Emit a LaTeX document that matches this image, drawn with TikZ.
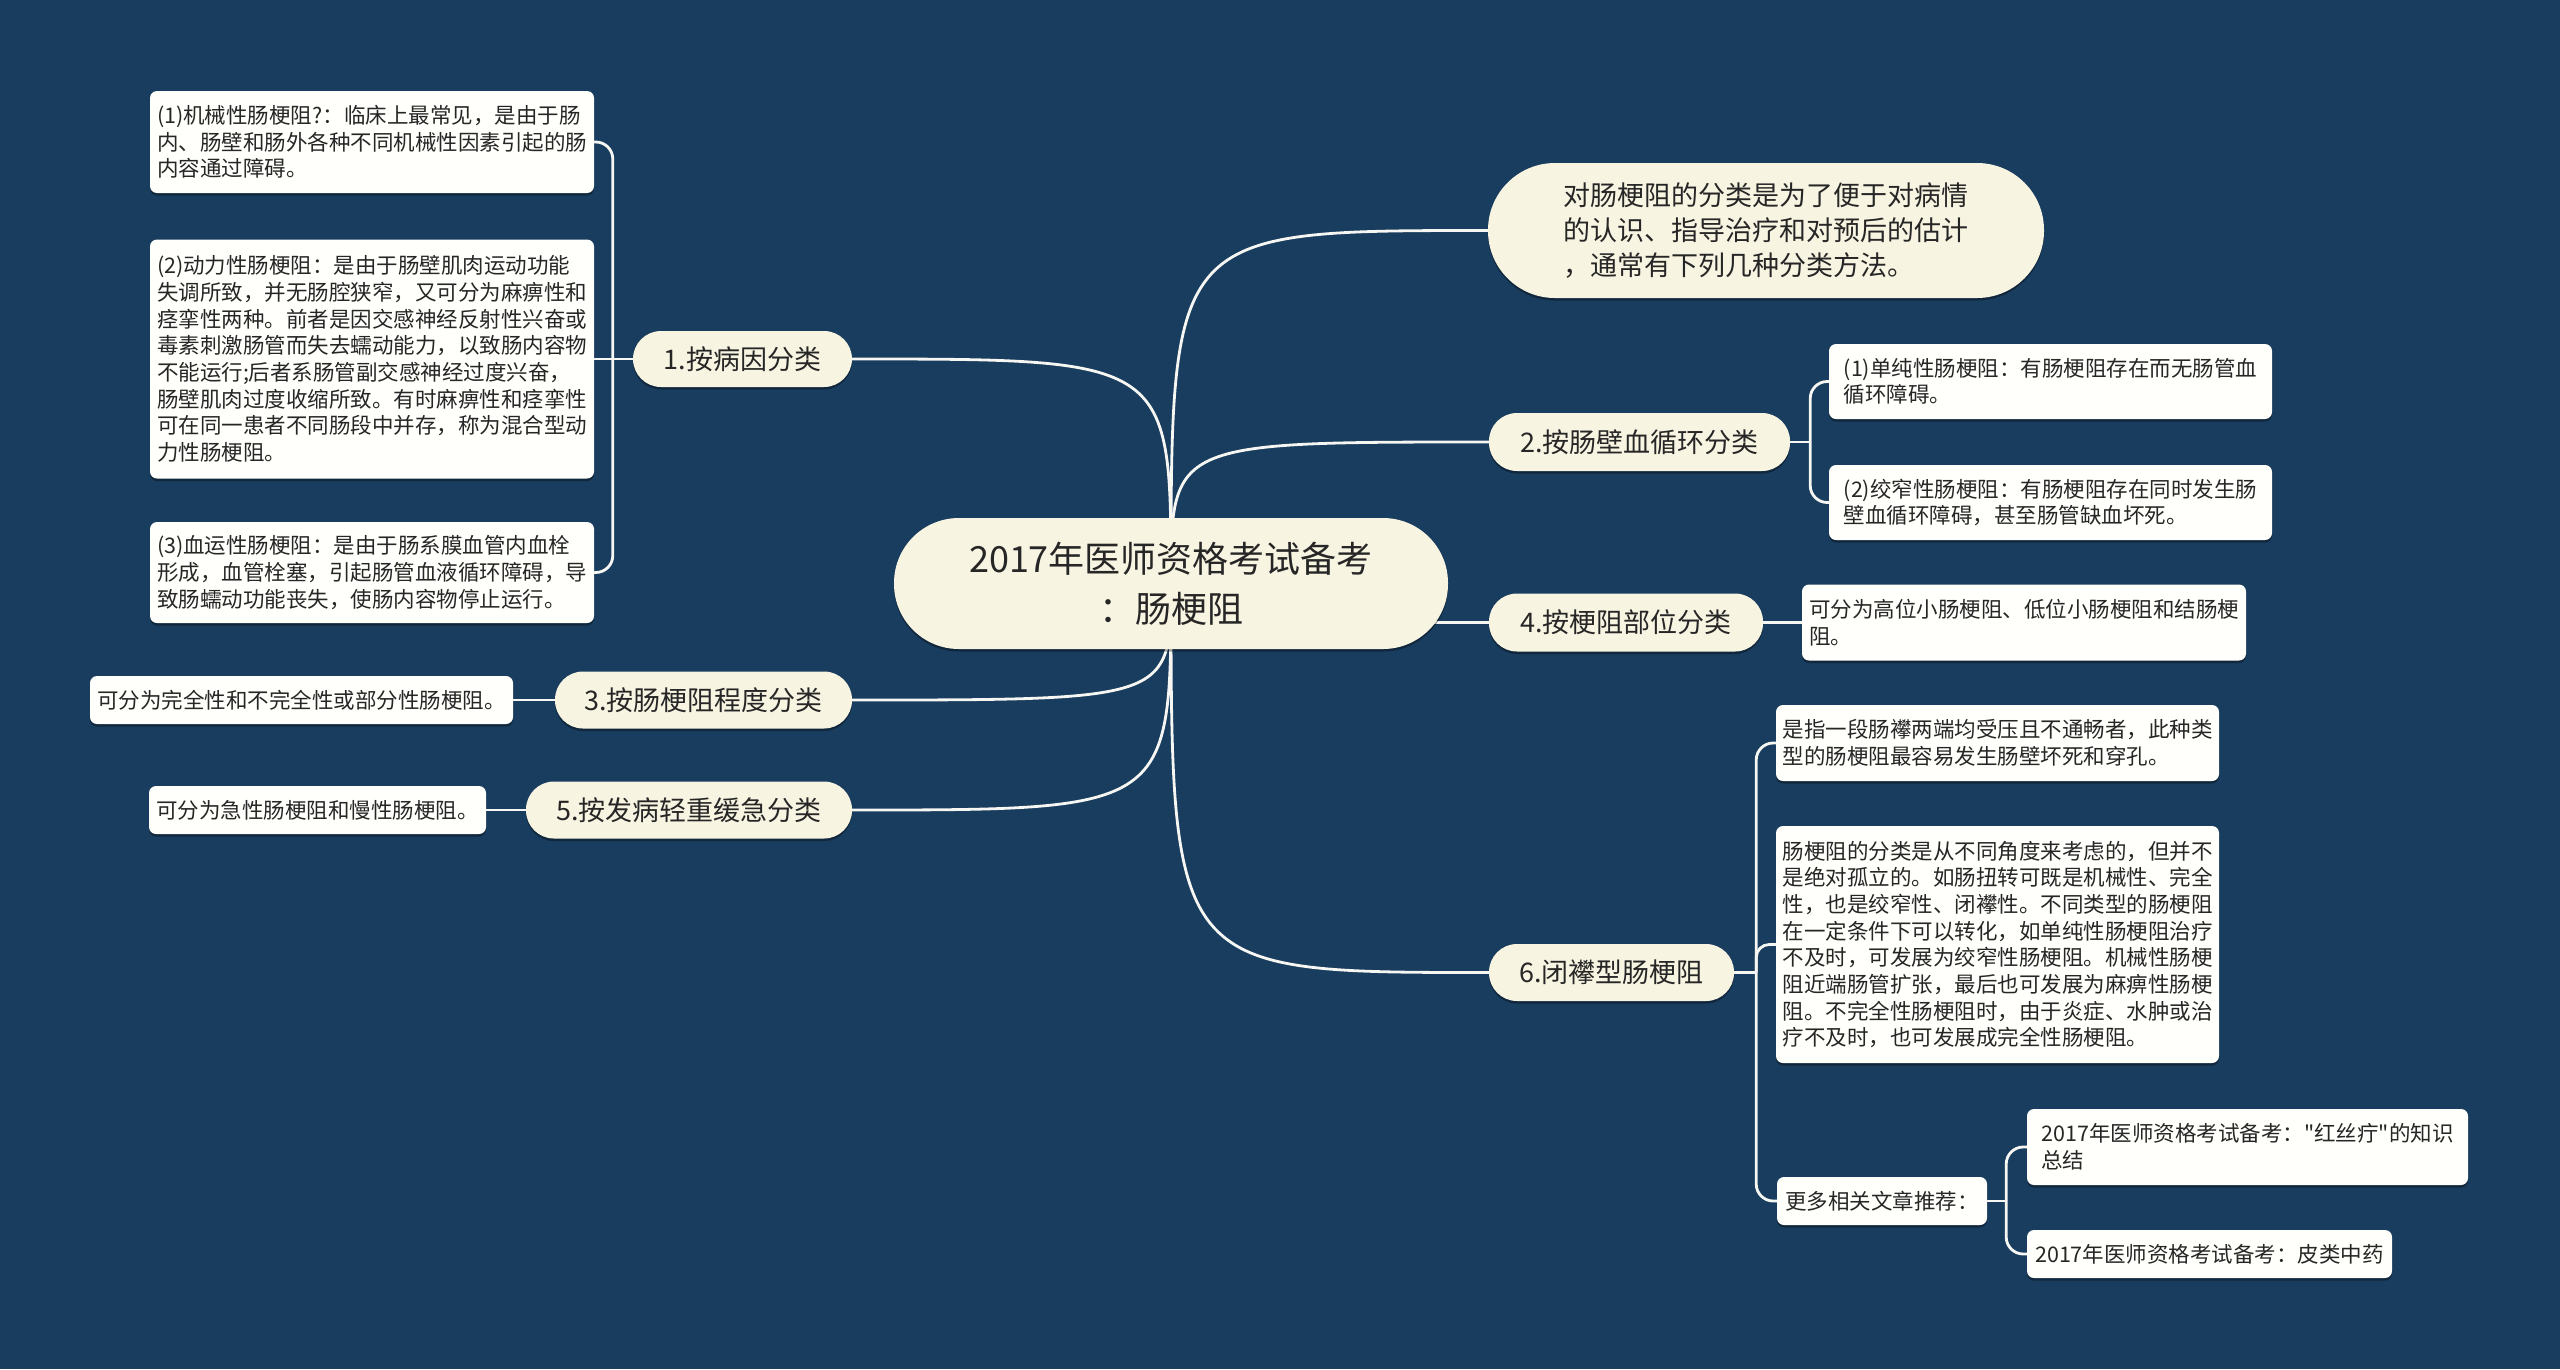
\documentclass[tikz,border=0pt]{standalone}
\usepackage{fontspec}
\setmainfont{Noto Sans CJK SC}[Ligatures=TeXOff]
\usetikzlibrary{shadows,calc}
\definecolor{bgc}{RGB}{25,61,94}
\definecolor{cream}{RGB}{248,244,226}
\definecolor{leafc}{RGB}{255,255,251}
\definecolor{txt}{RGB}{38,38,38}
\definecolor{lin}{RGB}{246,246,242}
\pgfdeclarelayer{back}
\pgfdeclarelayer{lines}
\pgfsetlayers{back,lines,main}
\begin{document}
\begin{tikzpicture}[x=1pt,y=-1pt,
  conn/.style={draw=lin, line width=2.8pt},
  bracket/.style={conn, rounded corners=17pt},
  shad/.style={drop shadow={shadow xshift=0pt, shadow yshift=-2.5pt, opacity=0.35, fill=black}},
  pillnode/.style={fill=cream, text=txt, inner sep=0pt, rounded corners=#1, shad},
  branch/.style={pillnode=28pt, font=\fontsize{27}{32}\selectfont},
  leafnode/.style={fill=leafc, text=txt, inner sep=0pt, rounded corners=7pt, align=left,
    font=\fontsize{21.5}{26.7}\selectfont, shad},
]
\begin{pgfonlayer}{back}
\fill[bgc] (0,0) rectangle (2560,1369);
\end{pgfonlayer}
\useasboundingbox (0,0) rectangle (2560,1369);

% root
\node[pillnode=65pt, minimum width=554pt, minimum height=131pt, align=center,
  font=\fontsize{36}{50}\selectfont] (root) at (1171,583.5)
  {2017年医师资格考试备考\\：肠梗阻};

% top-right note
\node[pillnode=67pt, minimum width=556pt, minimum height=135pt, align=left,
  font=\fontsize{27}{35}\selectfont] (top) at (1766,230.5)
  {对肠梗阻的分类是为了便于对病情\\的认识、指导治疗和对预后的估计\\，通常有下列几种分类方法。};

% branches
\node[branch, minimum width=219pt, minimum height=56pt] (b1) at (742.5,359) {1.按病因分类};
\node[branch, minimum width=297pt, minimum height=57pt] (b3) at (703.5,700) {3.按肠梗阻程度分类};
\node[branch, minimum width=326pt, minimum height=57pt] (b5) at (689,810) {5.按发病轻重缓急分类};
\node[branch, minimum width=301pt, minimum height=58pt] (b2) at (1639.5,442) {2.按肠壁血循环分类};
\node[branch, minimum width=274pt, minimum height=58pt] (b4) at (1626,622.5) {4.按梗阻部位分类};
\node[branch, minimum width=245pt, minimum height=57pt] (b6) at (1611.5,972.5) {6.闭襻型肠梗阻};

% left leaves
\node[leafnode, minimum width=444pt, minimum height=102pt] (l1) at (372,142)
  {(1)机械性肠梗阻?：临床上最常见，是由于肠\\内、肠壁和肠外各种不同机械性因素引起的肠\\内容通过障碍。};
\node[leafnode, minimum width=444pt, minimum height=239pt] (l2) at (372,359)
  {(2)动力性肠梗阻：是由于肠壁肌肉运动功能\\失调所致，并无肠腔狭窄，又可分为麻痹性和\\痉挛性两种。前者是因交感神经反射性兴奋或\\毒素刺激肠管而失去蠕动能力，以致肠内容物\\不能运行;后者系肠管副交感神经过度兴奋，\\肠壁肌肉过度收缩所致。有时麻痹性和痉挛性\\可在同一患者不同肠段中并存，称为混合型动\\力性肠梗阻。};
\node[leafnode, minimum width=444pt, minimum height=101pt] (l3) at (372,572.5)
  {(3)血运性肠梗阻：是由于肠系膜血管内血栓\\形成，血管栓塞，引起肠管血液循环障碍，导\\致肠蠕动功能丧失，使肠内容物停止运行。};
\node[leafnode, minimum width=423pt, minimum height=48pt] (l3b) at (301.5,700)
  {可分为完全性和不完全性或部分性肠梗阻。};
\node[leafnode, minimum width=337pt, minimum height=48pt] (l5) at (317.5,810)
  {可分为急性肠梗阻和慢性肠梗阻。};

% right leaves
\node[leafnode, minimum width=443pt, minimum height=75pt] (r2a) at (2050.5,381.5)
  {(1)单纯性肠梗阻：有肠梗阻存在而无肠管血\\循环障碍。};
\node[leafnode, minimum width=443pt, minimum height=75pt] (r2b) at (2050.5,502.5)
  {(2)绞窄性肠梗阻：有肠梗阻存在同时发生肠\\壁血循环障碍，甚至肠管缺血坏死。};
\node[leafnode, minimum width=444pt, minimum height=76pt] (r4) at (2024,622.5)
  {可分为高位小肠梗阻、低位小肠梗阻和结肠梗\\阻。};
\node[leafnode, minimum width=443pt, minimum height=76pt] (r6a) at (1997.5,743)
  {是指一段肠襻两端均受压且不通畅者，此种类\\型的肠梗阻最容易发生肠壁坏死和穿孔。};
\node[leafnode, minimum width=443pt, minimum height=237pt] (r6b) at (1997.5,944.5)
  {肠梗阻的分类是从不同角度来考虑的，但并不\\是绝对孤立的。如肠扭转可既是机械性、完全\\性，也是绞窄性、闭襻性。不同类型的肠梗阻\\在一定条件下可以转化，如单纯性肠梗阻治疗\\不及时，可发展为绞窄性肠梗阻。机械性肠梗\\阻近端肠管扩张，最后也可发展为麻痹性肠梗\\阻。不完全性肠梗阻时，由于炎症、水肿或治\\疗不及时，也可发展成完全性肠梗阻。};
\node[leafnode, minimum width=210pt, minimum height=48pt] (more) at (1882,1201)
  {更多相关文章推荐：};
\node[leafnode, minimum width=441pt, minimum height=76pt] (r6c1) at (2247.5,1147)
  {2017年医师资格考试备考："红丝疔"的知识\\总结};
\node[leafnode, minimum width=365pt, minimum height=48pt] (r6c2) at (2209.5,1254)
  {2017年医师资格考试备考：皮类中药};

% connectors
\begin{pgfonlayer}{lines}
\draw[conn] (root.center) .. controls (root.center |- b1.east) .. (b1.east);
\draw[conn] (root.center) .. controls (root.center |- b3.east) .. (b3.east);
\draw[conn] (root.center) .. controls (root.center |- b5.east) .. (b5.east);
\draw[conn] (root.center) .. controls (root.center |- top.west) .. (top.west);
\draw[conn] (root.center) .. controls (root.center |- b2.west) .. (b2.west);
\draw[conn] (root.center) .. controls (root.center |- b4.west) .. (b4.west);
\draw[conn] (root.center) .. controls (root.center |- b6.west) .. (b6.west);

\coordinate (j1) at ($(b1.west)+(-20,0)$);
\draw[conn] (b1.west) -- (l2.east);
\draw[bracket] (j1) |- (l1.east);
\draw[bracket] (j1) |- (l3.east);

\draw[conn] (b3.west) -- (l3b.east);
\draw[conn] (b5.west) -- (l5.east);

\coordinate (j2) at ($(b2.east)+(20,0)$);
\draw[conn] (b2.east) -- (j2);
\draw[bracket] (j2) |- (r2a.west);
\draw[bracket] (j2) |- (r2b.west);

\draw[conn] (b4.east) -- (r4.west);

\coordinate (j6) at ($(b6.east)+(22,0)$);
\draw[conn] (b6.east) -- (j6);
\draw[bracket] (j6) |- (r6a.west);
\draw[bracket, rounded corners=13pt] (j6) |- (r6b.west);
\draw[bracket] (j6) |- (more.west);

\coordinate (j7) at ($(more.east)+(19,0)$);
\draw[conn] (more.east) -- (j7);
\draw[bracket] (j7) |- (r6c1.west);
\draw[bracket] (j7) |- (r6c2.west);
\end{pgfonlayer}
\end{tikzpicture}
\end{document}
